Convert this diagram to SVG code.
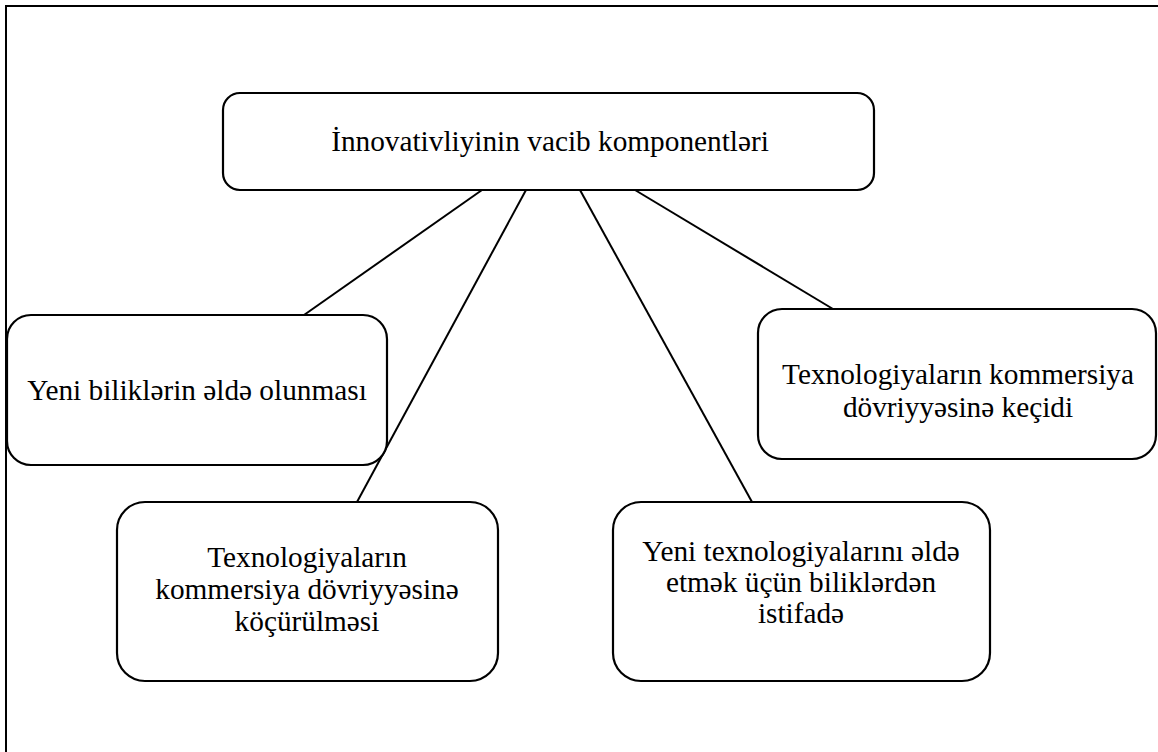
<svg xmlns="http://www.w3.org/2000/svg" width="1158" height="752" viewBox="0 0 1158 752">
<style>
.box{fill:#fff;stroke:#000;stroke-width:2.2}
.t{font-family:"Liberation Serif","Times New Roman",serif;font-size:29.3px;fill:#000;text-anchor:middle}
.c line{stroke:#000;stroke-width:2}
.frame{stroke:#000;stroke-width:2;fill:none}
</style>
<rect width="1158" height="752" fill="#fff"/>
<path class="frame" d="M6,752 V6 H1158"/>
<g class="c" id="connectors">
<line x1="482" y1="190" x2="304" y2="315"/>
<line x1="526" y1="190" x2="357" y2="502"/>
<line x1="580" y1="190" x2="752" y2="502"/>
<line x1="635" y1="190" x2="833" y2="309"/>
</g>
<g id="root">
<rect class="box" x="223" y="93" width="651" height="97" rx="17"/>
<text class="t" x="550" y="151">İnnovativliyinin vacib komponentləri</text>
</g>
<g id="n1">
<rect class="box" x="7" y="315" width="380" height="150" rx="24"/>
<text class="t" x="197" y="400">Yeni biliklərin əldə olunması</text>
</g>
<g id="n2">
<rect class="box" x="117" y="502" width="381" height="179" rx="28"/>
<text class="t" x="307" y="567">Texnologiyaların</text>
<text class="t" x="307" y="599">kommersiya dövriyyəsinə</text>
<text class="t" x="307" y="631">köçürülməsi</text>
</g>
<g id="n3">
<rect class="box" x="613" y="502" width="377" height="179" rx="28"/>
<text class="t" x="801" y="561">Yeni texnologiyalarını əldə</text>
<text class="t" x="801" y="592">etmək üçün biliklərdən</text>
<text class="t" x="801" y="623">istifadə</text>
</g>
<g id="n4">
<rect class="box" x="758" y="309" width="398" height="150" rx="24"/>
<text class="t" x="958" y="384">Texnologiyaların kommersiya</text>
<text class="t" x="958" y="417">dövriyyəsinə keçidi</text>
</g>
</svg>
